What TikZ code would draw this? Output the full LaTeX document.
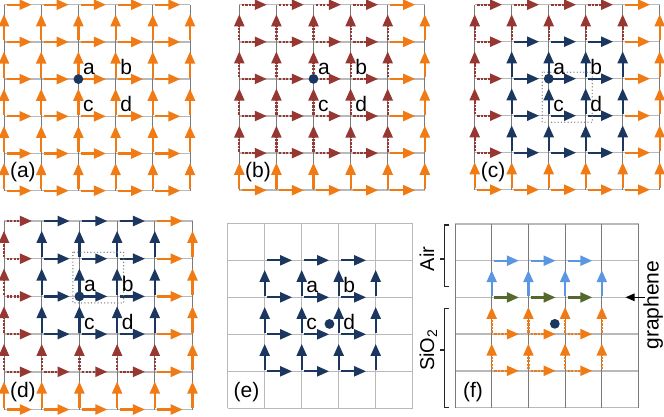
\documentclass[tikz,border=0pt]{standalone}
\usepackage{fontspec}
\setmainfont{Liberation Sans}
\usetikzlibrary{arrows.meta}
\definecolor{cOr}{RGB}{240,122,20}
\definecolor{cBr}{RGB}{150,55,50}
\definecolor{cNv}{RGB}{28,55,95}
\definecolor{cLb}{RGB}{90,150,225}
\definecolor{cGn}{RGB}{85,105,45}
\definecolor{cGv}{RGB}{122,122,122}
\definecolor{cGh}{RGB}{185,185,185}
\definecolor{cDot}{RGB}{125,125,125}
\def\hs{0.07}\def\he{0.74}\def\vs{0.96}\def\ve{0.26}
\newcommand{\HA}[3]{\draw[#3] (#1+\hs,#2) -- (#1+\he,#2);}
\newcommand{\VA}[3]{\draw[#3] (#1,#2+\vs) -- (#1,#2+\ve);}
\newcommand{\pgrid}[2]{%
  \foreach \k in {0,...,5}{\draw[#1] (0,\k) -- (5,\k);}%
  \foreach \k in {0,...,5}{\draw[#2] (\k,0) -- (\k,5);}}
\newcommand{\abcd}[1]{%
  \node[lab] (#1a) at ([xshift=4.5pt,yshift=4.5pt]2,2) {a};
  \node[lab] (#1b) at ([xshift=4.5pt,yshift=4.5pt]3,2) {b};
  \node[lab] (#1c) at ([xshift=4.5pt,yshift=4.5pt]2,3) {c};
  \node[lab] (#1d) at ([xshift=4.5pt,yshift=4.5pt]3,3) {d};}
\tikzset{
  gridh/.style={cGh, line width=1.5pt},
  gridv/.style={cGv, line width=0.9pt},
  gridl/.style={cGh, line width=1.3pt},
  arrbase/.style={line width=2.2pt, -{Triangle[length=12pt,width=10pt]}},
  arrOr/.style={arrbase, cOr},
  arrBr/.style={arrbase, cBr, dash pattern=on 2.3pt off 1.2pt},
  arrNv/.style={arrbase, cNv},
  arrLb/.style={arrbase, cLb},
  arrGn/.style={arrbase, cGn},
  arrOd/.style={arrbase, cOr, dash pattern=on 2.3pt off 1.2pt},
  lab/.style={anchor=base west, inner sep=0pt, font=\fontsize{21}{21}\selectfont},
  plab/.style={anchor=center, inner sep=0pt, font=\fontsize{21}{21}\selectfont},
  rlab/.style={anchor=base, inner sep=0pt, rotate=90, font=\fontsize{20}{20}\selectfont},
  boxdot/.style={cDot, line width=1.4pt, dash pattern=on 0pt off 3.3pt, line cap=round},
  brk/.style={black!85, line width=1.3pt},
  dotm/.style={cNv}
}
\begin{document}
\begin{tikzpicture}[x=1pt,y=-1pt]
\fill[white] (0,0) rectangle (664,416);
\path[use as bounding box] (0,0) rectangle (664,416);

% ---------- (a)
\begin{scope}[shift={(4pt,-4.7pt)},x=37.2pt,y=-37.2pt]
  \pgrid{gridh}{gridv}
  \foreach \i in {0,...,5}{\foreach \j in {0,...,4}{\HA{\j}{\i}{arrOr}}}
  \foreach \j in {0,...,5}{\foreach \i in {0,...,4}{\VA{\j}{\i}{arrOr}}}
  \fill[dotm] (2,2) circle (4.9pt);
  \abcd{A}
\end{scope}

% ---------- (b)
\begin{scope}[shift={(239.3pt,-4.7pt)},x=37.1pt,y=-37.1pt]
  \pgrid{gridh}{gridv}
  \foreach \i in {0,...,4}{\foreach \j in {0,...,3}{\HA{\j}{\i}{arrBr}}}
  \foreach \i in {0,...,4}{\HA{4}{\i}{arrOr}}
  \foreach \j in {0,...,4}{\HA{\j}{5}{arrOr}}
  \foreach \j in {0,...,4}{\foreach \i in {0,...,3}{\VA{\j}{\i}{arrBr}}}
  \foreach \j in {0,...,4}{\VA{\j}{4}{arrOr}}
  \foreach \i in {0,...,4}{\VA{5}{\i}{arrOr}}
  \fill[dotm] (2,2) circle (4.9pt);
  \abcd{B}
\end{scope}

% ---------- (c)
\begin{scope}[shift={(474.7pt,-4.7pt)},x=37pt,y=-37pt]
  \pgrid{gridh}{gridv}
  \foreach \j in {0,...,3}{\HA{\j}{0}{arrBr}}
  \foreach \i in {1,...,4}{\HA{0}{\i}{arrBr}}
  \foreach \i in {1,...,4}{\foreach \j in {1,...,3}{\HA{\j}{\i}{arrNv}}}
  \foreach \i in {0,...,4}{\HA{4}{\i}{arrOr}}
  \foreach \j in {0,...,4}{\HA{\j}{5}{arrOr}}
  \foreach \i in {0,...,3}{\VA{0}{\i}{arrBr}}
  \foreach \j in {1,...,4}{\VA{\j}{0}{arrBr}}
  \foreach \j in {1,...,4}{\foreach \i in {1,...,3}{\VA{\j}{\i}{arrNv}}}
  \foreach \j in {0,...,4}{\VA{\j}{4}{arrOr}}
  \foreach \i in {0,...,4}{\VA{5}{\i}{arrOr}}
  \draw[boxdot] ([xshift=-6.5pt,yshift=6.5pt]2,2) rectangle ([xshift=6.5pt,yshift=-6.5pt]3,3);
  \fill[dotm] (2,2) circle (4.9pt);
  \abcd{C}
\end{scope}

% ---------- (d)
\begin{scope}[shift={(4pt,-221pt)},x=37.7pt,y=-37.7pt]
  \pgrid{gridh}{gridv}
  \foreach \i in {0,...,3}{\HA{0}{\i}{arrBr}}
  \foreach \j in {0,...,3}{\HA{\j}{4}{arrBr}}
  \foreach \i in {0,...,3}{\foreach \j in {1,...,3}{\HA{\j}{\i}{arrNv}}}
  \foreach \i in {0,...,4}{\HA{4}{\i}{arrOr}}
  \foreach \j in {0,...,4}{\HA{\j}{5}{arrOr}}
  \foreach \i in {0,...,3}{\VA{0}{\i}{arrBr}}
  \foreach \j in {1,...,4}{\VA{\j}{3}{arrBr}}
  \foreach \j in {1,...,4}{\foreach \i in {0,...,2}{\VA{\j}{\i}{arrNv}}}
  \foreach \j in {0,...,4}{\VA{\j}{4}{arrOr}}
  \foreach \i in {0,...,4}{\VA{5}{\i}{arrOr}}
  \draw[boxdot] ([xshift=-6.5pt,yshift=6.5pt]2,1) rectangle ([xshift=6.5pt,yshift=-6.5pt]3,2);
  \fill[dotm] (2,2) circle (4.9pt);
  \abcd{D}
\end{scope}

% ---------- (e)
\begin{scope}[shift={(227.7pt,-223.3pt)},x=37pt,y=-37pt]
  \pgrid{gridl}{gridl}
  \foreach \i in {1,...,4}{\foreach \j in {1,...,3}{\HA{\j}{\i}{arrNv}}}
  \foreach \j in {1,...,4}{\foreach \i in {1,...,3}{\VA{\j}{\i}{arrNv}}}
  \fill[dotm] (2.75,2.72) circle (4.9pt);
  \abcd{E}
\end{scope}

% ---------- (f)
\begin{scope}[shift={(455pt,-224pt)},x=36.7pt,y=-36.7pt]
  \pgrid{gridh}{gridv}
  \foreach \j in {1,...,3}{\HA{\j}{1}{arrLb}}
  \foreach \j in {1,...,4}{\VA{\j}{1}{arrLb}}
  \foreach \j in {1,...,3}{\HA{\j}{2}{arrGn}}
  \foreach \j in {1,...,4}{\VA{\j}{2}{arrOd}\VA{\j}{3}{arrOd}}
  \foreach \j in {1,...,3}{\HA{\j}{3}{arrOd}\HA{\j}{4}{arrOd}}
  \fill[dotm] (2.72,2.72) circle (4.9pt);
\end{scope}

% panel labels
\node[plab] (pa) at (22.9,171.7) {(a)};
\node[plab] (pb) at (258,171.7) {(b)};
\node[plab] (pc) at (493.2,171.7) {(c)};
\node[plab] (pd) at (22.9,391.7) {(d)};
\node[plab] (pe) at (246.5,391.7) {(e)};
\node[plab] (pf) at (473,391.7) {(f)};

% brackets
\draw[brk] (449.3,225) -- (444.3,225) -- (444.3,286.7) -- (449.3,286.7);
\draw[brk] (444.3,259) -- (440,259);
\draw[brk] (449.3,308.3) -- (444.3,308.3) -- (444.3,407.7) -- (449.3,407.7);
\draw[brk] (444.3,350) -- (440,350);
\node[rlab] (air) at (434,259) {Air};
\node[rlab] (sio) at (434,350) {SiO\textsubscript{2}};

% graphene
\node[rlab, font=\fontsize{21}{21}\selectfont] (gr) at (658.5,305) {graphene};
\coordinate (gtail) at (645,297.3);
\coordinate (gtip) at (625.5,297.3);
\draw[black, line width=1.2pt, -{Triangle[length=9pt,width=7.5pt]}] (gtail) -- (gtip);
\end{tikzpicture}
\end{document}
